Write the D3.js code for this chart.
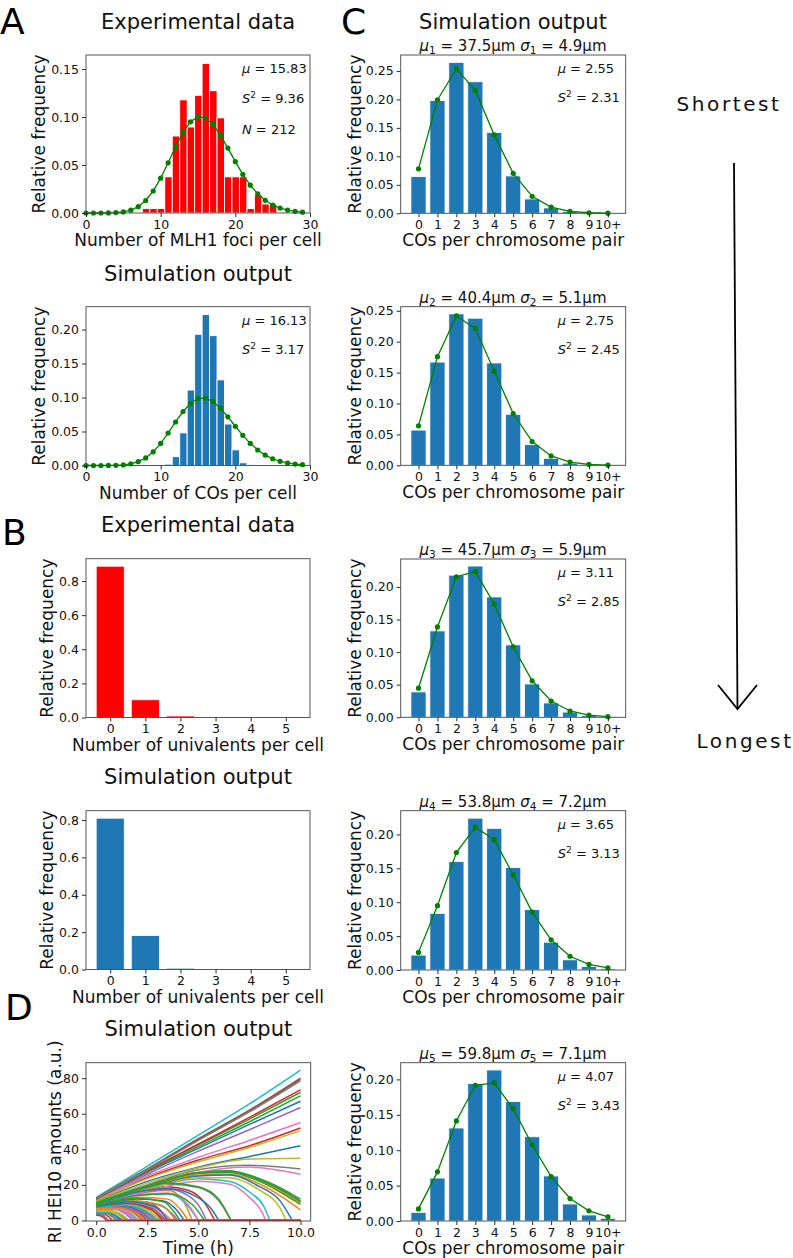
<!DOCTYPE html>
<html><head><meta charset="utf-8">
<script src="https://cdn.jsdelivr.net/npm/d3@7"></script>
<style>
body{margin:0;background:#fff}
svg{display:block;font-family:"DejaVu Sans",sans-serif}
</style>
</head><body>
<svg id="fig" width="793" height="1258"></svg>
<script>
// ================= DATA =================
// Panel A (top): experimental MLH1 foci per cell (N = 212)
const mlh1Foci = [8,9,10,11,12,13,14,15,16,17,18,19,20,21,22,23,24,25];
const mlh1Freq = [0.0047,0.0047,0.0047,0.0377,0.0802,0.1179,0.0896,0.1226,0.1557,0.1274,0.0991,0.0377,0.0377,0.0377,0.0047,0.0189,0.0094,0.0094];
const fitCounts = [0,1,2,3,4,5,6,7,8,9,10,11,12,13,14,15,16,17,18,19,20,21,22,23,24,25,26,27,28,29];
const mlh1Fit = [0,0,0,0.0001,0.0004,0.0011,0.0029,0.0066,0.0130,0.0229,0.0363,0.0523,0.0690,0.0840,0.0950,0.1003,0.0991,0.0923,0.0812,0.0676,0.0535,0.0403,0.0290,0.0200,0.0132,0.0083,0.0051,0.0030,0.0017,0.0009];
const mlh1Stats = ["15.83","9.36","212"];
// Panel A (bottom): simulated COs per cell
const simCOs = [11,12,13,14,15,16,17,18,19,20,21,22];
const simCOFreq = [0.002,0.013,0.048,0.111,0.193,0.222,0.191,0.126,0.061,0.023,0.004,0.001];
const simCOFit = [0,0,0,0.0001,0.0002,0.0009,0.0024,0.0056,0.0112,0.0201,0.0325,0.0477,0.0640,0.0794,0.0915,0.0985,0.0992,0.0941,0.0844,0.0716,0.0577,0.0444,0.0325,0.0228,0.0153,0.0099,0.0061,0.0037,0.0021,0.0012];
const simCOStats = ["16.13","3.17"];
// Panel B: univalents per cell
const univalents = [0,1,2,3,4,5];
const univExp = [0.887,0.104,0.009,0,0,0];
const univSim = [0.810,0.182,0.007,0.001,0,0];
// Panel C: COs per chromosome pair, shortest -> longest
const coCategories = ["0","1","2","3","4","5","6","7","8","9","10+"];
const coSim1 = [0.0644,0.198,0.265,0.231,0.142,0.0656,0.0252,0.0094,0.0035,0.0010,0.0003];
const coFit1 = [0.0781,0.1991,0.2539,0.2158,0.1376,0.0702,0.0298,0.0109,0.0035,0.0010,0.0003];
const coSim2 = [0.057,0.167,0.245,0.238,0.1656,0.0825,0.0334,0.0113,0.0035,0.0010,0.0003];
const coFit2 = [0.0639,0.1758,0.2417,0.2216,0.1523,0.0838,0.0384,0.0151,0.0052,0.0016,0.0004];
const coSim3 = [0.0389,0.1325,0.218,0.232,0.1846,0.111,0.0511,0.022,0.008,0.003,0.001];
const coFit3 = [0.0446,0.1386,0.2156,0.2235,0.1738,0.1081,0.0560,0.0249,0.0097,0.0033,0.0010];
const coSim4 = [0.022,0.0836,0.160,0.224,0.209,0.151,0.089,0.041,0.015,0.005,0.002];
const coFit4 = [0.0260,0.0949,0.1732,0.2107,0.1923,0.1404,0.0854,0.0445,0.0203,0.0082,0.0030];
const coSim5 = [0.0122,0.0607,0.1314,0.194,0.2133,0.1686,0.119,0.0636,0.024,0.0085,0.0038];
const coFit5 = [0.0171,0.0694,0.1413,0.1917,0.1950,0.1587,0.1077,0.0626,0.0318,0.0144,0.0059];
const coLengthMean = ["37.5","40.4","45.7","53.8","59.8"];
const coLengthSd = ["4.9","5.1","5.9","7.2","7.1"];
const coMean = ["2.55","2.75","3.11","3.65","4.07"];
const coVar = ["2.31","2.45","2.85","3.13","3.43"];
// Panel D: RI HEI10 amounts over time, [time (h), amount (a.u.)]
const hei10Traces = [
 [[0,11.5],[2.5,27],[5,40.5],[7.5,54],[10,67]],
 [[0,9.5],[2.5,18.5],[5,25.5],[6.5,26],[8,20.5],[9,14],[10,6]],
 [[0,12],[2.5,28],[5,42.5],[7.5,57],[10,72]],
 [[0,11],[2.5,24],[5,34],[7.5,42],[10,52]],
 [[0,11.5],[2.5,26],[5,39],[7.5,51],[10,63.5]],
 [[0,12.5],[2.5,29],[5,46],[7.5,62],[10,80]],
 [[0,11],[2.5,25],[5,35.5],[7.5,45],[10,55]],
 [[0,10],[2.5,20],[5,28.5],[7.5,31],[10,29]],
 [[0,11],[2.5,23.5],[5,33],[7.5,41],[10,50.5]],
 [[0,13],[2.5,30.5],[5,48],[7.5,65.5],[10,84.5]],
 [[0,10.5],[2.5,22],[5,30],[7.5,36],[10,42]],
 [[0,10],[2.5,19],[5,26.5],[6.5,27.5],[8,22.5],[9,17],[10,10]],
 [[0,12],[2.5,27.5],[5,41.5],[7.5,55.5],[10,70]],
 [[0,12],[2.5,28],[5,43],[7.5,58],[10,73.5]],
 [[0,10],[2.5,19.5],[5,27],[6.5,27.5],[8,23],[9,18],[10,10.5]],
 [[0,12.5],[2.5,28.8],[5,45.5],[7.5,61.5],[10,79.3]],
 [[0,10],[2.5,19.5],[5,27],[7.5,30],[10,26]],
 [[0,12.5],[2.5,28.5],[5,45],[7.5,61],[10,78.5]],
 [[0,10.5],[2.5,21],[5,29.5],[7.5,34.5],[10,35]],
 [[0,9],[2.5,17.5],[5,23.5],[6.5,22],[7.5,16],[8.2,8],[8.5,0],[10,0]],
 [[0,9.5],[2.5,18],[5,25],[6.5,25.5],[8,19],[9,11],[9.6,0],[10,0]],
 [[0,8.5],[2,15],[3.5,17],[4.2,12],[4.7,0],[10,0]],
 [[0,10],[2.5,19.5],[5,27],[6.5,28],[8,23.5],[9,18.5],[10,12]],
 [[0,8.5],[2,16],[3.5,19],[4.5,17],[5.3,10],[5.8,0],[10,0]],
 [[0,8],[2,15],[3.5,17.5],[4.5,14],[5.1,7],[5.4,0],[10,0]],
 [[0,8],[1.5,11],[2.5,10],[3.2,5],[3.5,0],[10,0]],
 [[0,9],[2.5,16.5],[5,22],[6.5,20.5],[7.5,13],[8.1,5],[8.3,0],[10,0]],
 [[0,9],[2,17],[3.5,20.5],[5,18.5],[6,11],[6.6,0],[10,0]],
 [[0,9.5],[2.5,17.5],[5,24],[6.5,24],[8,17],[9,7],[9.3,0],[10,0]],
 [[0,8],[2,14],[3.5,15],[4.5,8],[5,0],[10,0]],
 [[0,8.5],[2,16],[3.5,18],[4.8,14],[5.6,7],[6,0],[10,0]],
 [[0,7],[1.5,10],[2.5,9],[3.3,4],[3.7,0],[10,0]],
 [[0,9],[2,17.5],[3.5,21],[5,19],[6,12],[6.6,0],[10,0]],
 [[0,6],[1,7.5],[2,5],[2.5,0],[10,0]],
 [[0,7.5],[1.5,11],[3,9],[3.7,4],[4,0],[10,0]],
 [[0,7],[1.5,8],[2.6,4],[3,0],[10,0]],
 [[0,8],[2,14.5],[3.5,15.5],[4.5,9],[5,0],[10,0]],
 [[0,7.5],[1.5,9.5],[2.7,6],[3.2,0],[10,0]],
 [[0,6.5],[1,7.5],[1.8,4.5],[2.2,0],[10,0]],
 [[0,7.5],[1.7,11],[3.2,8.5],[3.9,0],[10,0]],
 [[0,8],[2,12],[3.3,11],[4,5],[4.3,0],[10,0]],
 [[0,7],[1.2,8],[2.3,5],[2.8,0],[10,0]],
 [[0,10],[2.5,19],[5,26.5],[6.5,27],[8,22],[9,16],[10,9]],
 [[0,7.5],[1.5,9],[2.7,6],[3.3,0],[10,0]],
 [[0,6],[0.8,6.5],[1.4,4],[1.8,0],[10,0]],
 [[0,6.5],[1,7],[1.9,4.5],[2.4,0],[10,0]],
 [[0,7.5],[1.6,10],[2.9,7],[3.6,0],[10,0]],
 [[0,5.5],[0.7,5.5],[1.2,3],[1.5,0],[10,0]],
 [[0,7],[1.4,9],[2.5,6],[3.1,0],[10,0]],
 [[0,6],[0.9,6.5],[1.6,4],[2,0],[10,0]],
 [[0,7],[1.2,8],[2.2,5],[2.7,0],[10,0]],
 [[0,8],[2,13],[3.5,12],[4.2,5],[4.5,0],[10,0]],
 [[0,10],[2.5,19.2],[5,26.8],[6.5,27.8],[8,23],[9,17.5],[10,11]],
 [[0,5],[0.5,4.5],[0.9,2.5],[1.2,0],[10,0]],
 [[0,7],[1.3,8.5],[2.3,5.5],[2.9,0],[10,0]],
 [[0,7.5],[1.5,9.5],[2.8,6.5],[3.4,0],[10,0]],
 [[0,6],[0.9,6.5],[1.5,4],[1.9,0],[10,0]],
 [[0,6.5],[1,7],[1.8,4.5],[2.3,0],[10,0]],
 [[0,5.5],[0.7,5.5],[1.3,3],[1.6,0],[10,0]],
 [[0,7],[1.4,8.5],[2.4,5.5],[3,0],[10,0]],
 [[0,5],[0.6,4.5],[1,2.5],[1.3,0],[10,0]],
 [[0,7.5],[1.8,11],[3.2,8.5],[3.9,0],[10,0]],
 [[0,8],[2,12.5],[3.3,10.5],[3.8,5],[4.1,0],[10,0]],
 [[0,4],[0.4,3.5],[0.8,0],[10,0]],
 [[0,6.5],[1.1,7.5],[2.1,5],[2.6,0],[10,0]],
 [[0,4.5],[0.5,4],[0.8,2],[1,0],[10,0]],
 [[0,6],[1,6.5],[1.7,4],[2.1,0],[10,0]],
 [[0,3.5],[0.3,3],[0.6,0],[10,0]],
 [[0,5],[0.6,5],[1.1,3],[1.4,0],[10,0]],
 [[0,4.5],[0.5,4.2],[0.9,2.2],[1.1,0],[10,0]],
 [[0,7.5],[1.6,10.5],[2.9,7.5],[3.5,0],[10,0]],
 [[0,6.5],[1,7],[1.9,4.5],[2.4,0],[10,0]],
 [[0,8],[2,14],[3.5,15],[4.7,9],[5.3,0],[10,0]],
 [[0,3],[0.25,2.5],[0.5,0],[10,0]]
];

// ================= DRAWING =================
const svg = d3.select("#fig");
const RED = "#ff0000", BLUE = "#1f77b4", GREEN = "#008000";
const TICK_FS = 12.5, LABEL_FS = 17, TITLE_FS = 21, ANNOT_FS = 13;

function makeAxes(box, xScale, yScale, xTicks, xFmt, yTicks, yFmt){
  const g = svg.append("g");
  const ax = g.append("g").attr("transform",`translate(0,${box.y1})`)
    .call(d3.axisBottom(xScale).tickValues(xTicks).tickFormat(xFmt).tickSize(4).tickPadding(3).tickSizeOuter(0));
  const ay = g.append("g").attr("transform",`translate(${box.x0},0)`)
    .call(d3.axisLeft(yScale).tickValues(yTicks).tickFormat(yFmt).tickSize(4).tickPadding(3).tickSizeOuter(0));
  [ax, ay].forEach(a=>{
    a.attr("font-family",null).attr("font-size",TICK_FS).style("color","#111");
    a.select(".domain").remove();
    a.selectAll(".tick line").attr("stroke-width",0.9);
  });
  return g;
}
function frameBox(box){
  svg.append("rect").attr("x",box.x0).attr("y",box.y0)
    .attr("width",box.x1-box.x0).attr("height",box.y1-box.y0)
    .attr("fill","none").attr("stroke","#444").attr("stroke-width",0.9);
}
function title(text, cx, y){
  svg.append("text").attr("x",cx).attr("y",y).attr("text-anchor","middle")
    .attr("font-size",TITLE_FS).attr("fill","#111").text(text);
}
function xLabel(text, box, dy){
  svg.append("text").attr("x",(box.x0+box.x1)/2).attr("y",box.y1+(dy||33))
    .attr("text-anchor","middle").attr("font-size",LABEL_FS).attr("fill","#111").text(text);
}
function yLabel(text, box, bx){
  const cy = (box.y0+box.y1)/2;
  svg.append("text").attr("transform",`translate(${bx},${cy}) rotate(-90)`)
    .attr("text-anchor","middle").attr("font-size",LABEL_FS).attr("fill","#111").text(text);
}
// math-style annotation: parts = [[text, style]] style: 'i' italic, 'sup', 'sub'
function mathText(x, y, parts, fs, anchor){
  const t = svg.append("text").attr("x",x).attr("y",y).attr("font-size",fs)
    .attr("fill","#111").attr("text-anchor",anchor||"start");
  let shift = 0;
  parts.forEach(([s, st])=>{
    const sp = t.append("tspan").text(s);
    let target = 0;
    if (st === "sup") target = -fs*0.38;
    if (st === "sub") target = fs*0.22;
    sp.attr("dy", target - shift); shift = target;
    if (st === "i") sp.attr("font-style","italic");
    if (st === "sup" || st === "sub") sp.attr("font-size", fs*0.7);
  });
  return t;
}
function fitLine(xScale, yScale, xs, ys){
  const pts = xs.map((k,i)=>[k, ys[i]]);
  svg.append("path").datum(pts).attr("fill","none").attr("stroke",GREEN).attr("stroke-width",1.3)
    .attr("d", d3.line().x(d=>xScale(d[0])).y(d=>yScale(d[1])));
  svg.append("g").selectAll("circle").data(pts).join("circle")
    .attr("cx",d=>xScale(d[0])).attr("cy",d=>yScale(d[1])).attr("r",2.6).attr("fill",GREEN);
}

// ---------- Panel letters ----------
[["A",0,34],["B",2,545],["D",5,1020],["C",341,34]].forEach(([t,x,y])=>{
  svg.append("text").attr("x",x).attr("y",y).attr("font-size",36).attr("fill","#000").text(t);
});

// ---------- Panel A ----------
const colL = {x0:86, x1:310};
function histPanel(box, cats, freqs, color, yMax, yTicks, fitYs, stats, ttl, xl){
  const x = d3.scaleLinear().domain([0,30]).range([box.x0, box.x1]);
  const y = d3.scaleLinear().domain([0,yMax]).range([box.y1, box.y0]);
  title(ttl, (box.x0+box.x1)/2, box.y0-26);
  svg.append("g").selectAll("rect").data(cats).join("rect")
    .attr("x",(d)=>x(d-0.45)).attr("width",x(1)-x(0))
    .attr("y",(d,i)=>y(freqs[i])).attr("height",(d,i)=>y(0)-y(freqs[i]))
    .attr("fill",color).attr("stroke","#fff").attr("stroke-width",0.9);
  fitLine(x, y, fitCounts, fitYs);
  makeAxes(box, x, y, [0,10,20,30], d3.format("d"), yTicks, d3.format(".2f"));
  frameBox(box);
  const ax = box.x1 - 68;
  mathText(ax, box.y0+18, [["μ","i"],[" = "+stats[0]]], ANNOT_FS);
  mathText(ax, box.y0+47.5, [["S","i"],["2","sup"],[" = "+stats[1]]], ANNOT_FS);
  if (stats[2]) mathText(ax, box.y0+79, [["N","i"],[" = "+stats[2]]], ANNOT_FS);
  xLabel(xl, box);
  yLabel("Relative frequency", box, 45);
}
histPanel({...colL, y0:55, y1:213}, mlh1Foci, mlh1Freq, RED, 0.1646, [0,0.05,0.10,0.15],
  mlh1Fit, mlh1Stats, "Experimental data", "Number of MLH1 foci per cell");
histPanel({...colL, y0:306.7, y1:465.5}, simCOs, simCOFreq, BLUE, 0.2336, [0,0.05,0.10,0.15,0.20],
  simCOFit, simCOStats, "Simulation output", "Number of COs per cell");

// ---------- Panel B ----------
function univPanel(box, freqs, color, yMax, ttl){
  const x = d3.scaleLinear().domain([-0.69,5.69]).range([box.x0, box.x1]);
  const y = d3.scaleLinear().domain([0,yMax]).range([box.y1, box.y0]);
  title(ttl, (box.x0+box.x1)/2, box.y0-27);
  svg.append("g").selectAll("rect").data(univalents).join("rect")
    .attr("x",d=>x(d-0.4)).attr("width",x(0.8)-x(0))
    .attr("y",(d,i)=>y(freqs[i])).attr("height",(d,i)=>y(0)-y(freqs[i]))
    .attr("fill",color).attr("stroke","#fff").attr("stroke-width",0.8);
  makeAxes(box, x, y, univalents, d3.format("d"), [0,0.2,0.4,0.6,0.8], d3.format(".1f"));
  frameBox(box);
  xLabel("Number of univalents per cell", box);
  yLabel("Relative frequency", box, 53);
}
univPanel({...colL, y0:558.7, y1:717.5}, univExp, RED, 0.931, "Experimental data");
univPanel({...colL, y0:810.7, y1:969.5}, univSim, BLUE, 0.850, "Simulation output");

// ---------- Panel D ----------
(function(){
  const box = {x0:86, x1:310.7, y0:1062.7, y1:1221};
  const x = d3.scaleLinear().domain([-0.5,10.5]).range([box.x0, box.x1]);
  const y = d3.scaleLinear().domain([-0.3,88.7]).range([box.y1, box.y0]);
  title("Simulation output", (box.x0+box.x1)/2, box.y0-27);
  svg.append("clipPath").attr("id","clipD").append("rect")
    .attr("x",box.x0).attr("y",box.y0).attr("width",box.x1-box.x0).attr("height",box.y1-box.y0);
  const color = d3.scaleOrdinal(d3.schemeCategory10);
  const gen = d3.line().x(d=>x(d[0])).y(d=>y(d[1])).curve(d3.curveMonotoneX);
  const g = svg.append("g").attr("clip-path","url(#clipD)");
  hei10Traces.forEach((tr,i)=>{
    const zi = tr.findIndex(p=>p[1]===0);
    const live = zi<0 ? tr : tr.slice(0, zi+1);
    let d = gen(live);
    if (zi>=0) d += "L" + x(tr[tr.length-1][0]) + "," + y(0);
    g.append("path").attr("d",d).attr("fill","none").attr("stroke",color(i)).attr("stroke-width",1.5);
  });
  makeAxes(box, x, y, [0,2.5,5,7.5,10], d3.format(".1f"), [0,20,40,60,80], d3.format("d"));
  frameBox(box);
  xLabel("Time (h)", box);
  yLabel("RI HEI10 amounts (a.u.)", box, 61);
})();

// ---------- Panel C ----------
const cSims = [coSim1, coSim2, coSim3, coSim4, coSim5];
const cFits = [coFit1, coFit2, coFit3, coFit4, coFit5];
const cBoxes = [[55,213.3,0.278],[306.7,465.3,0.2566],[559,717.3,0.2428],[810.7,970,0.235],[1062.7,1221,0.2236]];
title("Simulation output", 513, 29);
cSims.forEach((vals, p)=>{
  const box = {x0:400.7, x1:625.7, y0:cBoxes[p][0], y1:cBoxes[p][1]};
  const idx = coCategories.map((c,i)=>i);
  const x = d3.scaleLinear().domain([-0.94,10.94]).range([box.x0, box.x1]);
  const y = d3.scaleLinear().domain([0,cBoxes[p][2]]).range([box.y1, box.y0]);
  svg.append("g").selectAll("rect").data(idx).join("rect")
    .attr("x",d=>x(d-0.4)).attr("width",x(0.8)-x(0))
    .attr("y",d=>y(vals[d])).attr("height",d=>y(0)-y(vals[d]))
    .attr("fill",BLUE).attr("stroke","#fff").attr("stroke-width",0.8);
  fitLine(x, y, idx, cFits[p]);
  const yt = cBoxes[p][2] > 0.25 ? [0,0.05,0.10,0.15,0.20,0.25] : [0,0.05,0.10,0.15,0.20];
  makeAxes(box, x, y, idx, i=>coCategories[i], yt, d3.format(".2f"));
  frameBox(box);
  const n = String(p+1);
  mathText(513, box.y0-4, [["μ","i"],[n,"sub"],[" = "+coLengthMean[p]+"μm "],["σ","i"],[n,"sub"],[" = "+coLengthSd[p]+"μm"]], 15, "middle");
  const ax = box.x1 - 68;
  mathText(ax, box.y0+18, [["μ","i"],[" = "+coMean[p]]], ANNOT_FS);
  mathText(ax, box.y0+47, [["S","i"],["2","sup"],[" = "+coVar[p]]], ANNOT_FS);
  xLabel("COs per chromosome pair", box);
  yLabel("Relative frequency", box, 361);
});

// ---------- Shortest -> Longest arrow ----------
svg.append("text").attr("x",729).attr("y",111).attr("text-anchor","middle")
  .attr("font-size",20).attr("letter-spacing",2.6).attr("fill","#111").text("Shortest");
svg.append("text").attr("x",745).attr("y",748).attr("text-anchor","middle")
  .attr("font-size",20).attr("letter-spacing",2.6).attr("fill","#111").text("Longest");
svg.append("line").attr("x1",734).attr("y1",163).attr("x2",737.5).attr("y2",709)
  .attr("stroke","#000").attr("stroke-width",1.8);
svg.append("polyline").attr("points","718,685 737.5,709 757,685")
  .attr("fill","none").attr("stroke","#000").attr("stroke-width",1.8);
</script>
</body></html>
